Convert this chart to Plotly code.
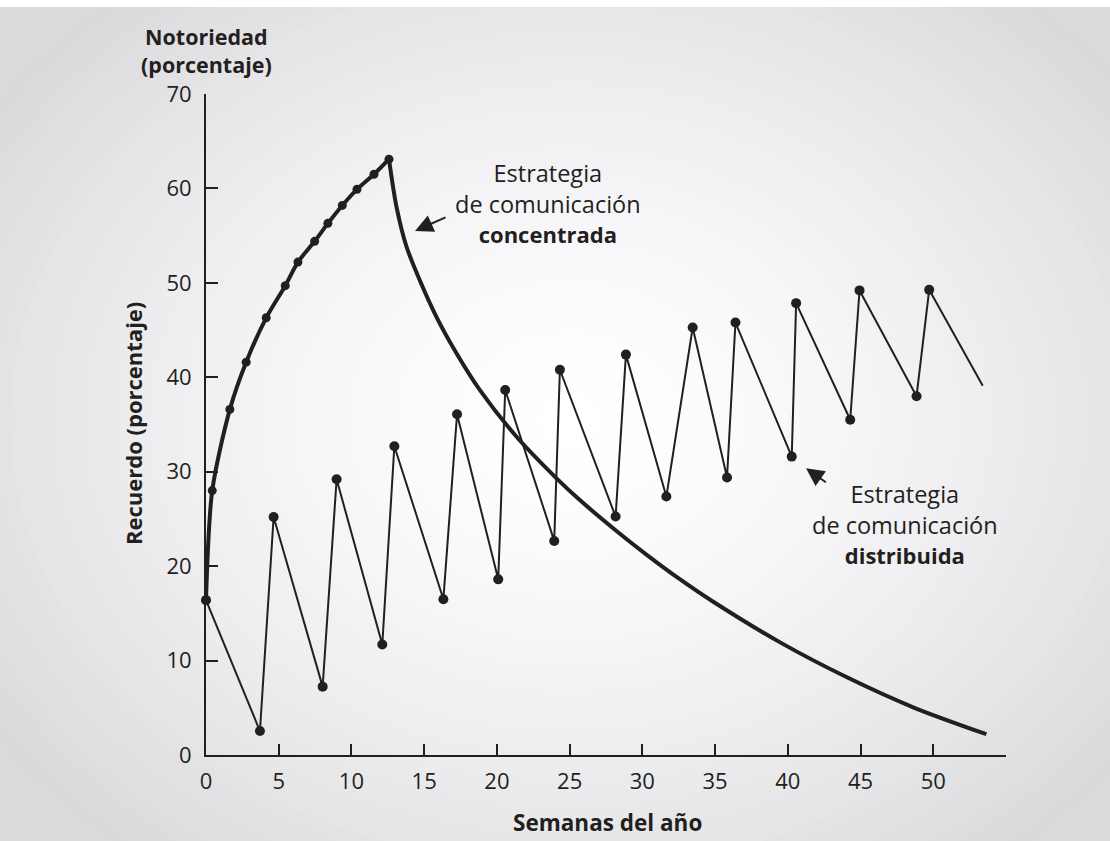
import plotly.graph_objects as go

# concentrated strategy: rising part (weekly insertions) and decay after week ~12.6
conc_rise_x = [0, 0.43, 1.64, 2.76, 4.14, 5.45, 6.32, 7.47, 8.38, 9.37, 10.38, 11.55, 12.58]
conc_rise_y = [16.4, 28.0, 36.6, 41.6, 46.3, 49.7, 52.2, 54.4, 56.3, 58.2, 59.9, 61.5, 63.1]
conc_decay_x = [12.58, 13.09, 13.78, 14.69, 15.84, 17.22, 18.82, 21.35, 24.1, 25.7, 28.2,
                30.3, 32.5, 34.9, 39.5, 44.1, 48.7, 53.65]
conc_decay_y = [63.1, 58.1, 53.85, 50.3, 46.4, 42.55, 38.66, 33.7, 29.3, 27.0, 23.75,
                21.2, 18.7, 16.2, 11.9, 8.2, 5.0, 2.2]

# distributed strategy (zigzag); last point is the open end of the line
dist_x = [0, 3.71, 4.65, 8.02, 8.98, 12.12, 12.95, 16.32, 17.26, 20.09, 20.57, 23.94, 24.33,
          28.16, 28.87, 31.65, 33.46, 35.82, 36.4, 40.27, 40.57, 44.29, 44.93, 48.85, 49.72, 53.4]
dist_y = [16.4, 2.54, 25.2, 7.24, 29.2, 11.7, 32.7, 16.5, 36.08, 18.6, 38.66, 22.67, 40.8,
          25.25, 42.4, 27.37, 45.27, 29.38, 45.8, 31.6, 47.85, 35.5, 49.2, 38.0, 49.26, 39.1]

x_ticks = [0, 5, 10, 15, 20, 25, 30, 35, 40, 45, 50]
y_ticks = [0, 10, 20, 30, 40, 50, 60, 70]

INK = "#231f20"
FONT = "Open Sans"

fig = go.Figure()

fig.add_trace(go.Scatter(
    x=dist_x, y=dist_y, mode="lines",
    line=dict(color=INK, width=2),
    cliponaxis=False, hoverinfo="skip"))
fig.add_trace(go.Scatter(
    x=dist_x[:-1], y=dist_y[:-1], mode="markers",
    marker=dict(color=INK, size=10, opacity=1, line=dict(width=0)),
    cliponaxis=False, hoverinfo="skip"))

fig.add_trace(go.Scatter(
    x=conc_decay_x, y=conc_decay_y, mode="lines",
    line=dict(color=INK, width=4, shape="spline", smoothing=0.8),
    cliponaxis=False, hoverinfo="skip"))

fig.add_trace(go.Scatter(
    x=conc_rise_x, y=conc_rise_y, mode="lines+markers",
    line=dict(color=INK, width=4, shape="spline", smoothing=0.8),
    marker=dict(color=INK, size=9, opacity=1, line=dict(width=0)),
    cliponaxis=False, hoverinfo="skip"))

# radial-ish background: concentric ellipses from grey edge to white centre
L, T, W, H = 206, 94, 800, 661
cx, cy, rx, ry = 570, 420, 700, 560
shapes = []
N = 45
for i in range(N, 0, -1):
    r = i / N
    c = int(round(255 - 37 * r ** 1.5))
    shapes.append(dict(
        type="circle", xref="paper", yref="paper", layer="below",
        x0=(cx - rx * r - L) / W, x1=(cx + rx * r - L) / W,
        y0=(T + H - (cy + ry * r)) / H, y1=(T + H - (cy - ry * r)) / H,
        fillcolor=f"rgb({c},{c},{c + 2 if c < 254 else 255})", line=dict(width=0)))
shapes.append(dict(type="rect", xref="paper", yref="paper", layer="below",
                   x0=-L / W, x1=(1110 - L) / W, y0=(T + H - 7) / H, y1=(T + H + 10) / H,
                   fillcolor="white", line=dict(width=0)))


def px(x, y):
    return dict(xref="paper", yref="paper", x=(x - L) / W, y=(T + H - y) / H,
                xanchor="center", yanchor="middle", showarrow=False)


SMALL = '<span style="font-size:22px">'
annotations = [
    dict(text="<b>Notoriedad<br>(porcentaje)</b>", align="center",
         font=dict(size=21.5, family=FONT, color=INK), **px(206, 50)),
    dict(text="<b>Recuerdo (porcentaje)</b>", textangle=-90,
         font=dict(size=22, family=FONT, color=INK), **px(133, 424)),
    dict(text="<b>Semanas del año</b>",
         font=dict(size=22.5, family=FONT, color=INK), **px(607, 822)),
    dict(text="Estrategia<br>de comunicación<br>" + SMALL + "<b>concentrada</b></span>",
         align="center", font=dict(size=23.5, family=FONT, color=INK), **px(548, 203)),
    dict(text="Estrategia<br>de comunicación<br>" + SMALL + "<b>distribuida</b></span>",
         align="center", font=dict(size=23.5, family=FONT, color=INK), **px(905, 524)),
    dict(text="", x=14.37, y=55.5, ax=16.57, ay=57.0, axref="x", ayref="y",
         showarrow=True, arrowhead=2, arrowsize=1.8, arrowwidth=2, arrowcolor=INK, standoff=0),
    dict(text="", x=41.25, y=30.36, ax=42.72, ay=28.77, axref="x", ayref="y",
         showarrow=True, arrowhead=2, arrowsize=1.8, arrowwidth=2, arrowcolor=INK, standoff=0),
]

fig.update_layout(
    width=1110, height=841,
    margin=dict(l=L, r=1110 - L - W, t=T, b=841 - T - H),
    paper_bgcolor="rgb(218,219,221)", plot_bgcolor="rgba(0,0,0,0)",
    showlegend=False, shapes=shapes, annotations=annotations,
    font=dict(family=FONT, color=INK),
)
fig.update_xaxes(range=[0, 55], tickvals=x_ticks, ticks="inside", ticklen=11, tickwidth=2,
                 tickcolor=INK, showline=True, linecolor=INK, linewidth=2, showgrid=False,
                 zeroline=False, tickfont=dict(size=22, family=FONT, color=INK),
                 ticklabelstandoff=6)
fig.update_yaxes(range=[0, 70], tickvals=y_ticks, ticks="inside", ticklen=12, tickwidth=2,
                 tickcolor=INK, showline=True, linecolor=INK, linewidth=2, showgrid=False,
                 zeroline=False, tickfont=dict(size=22, family=FONT, color=INK),
                 ticklabelstandoff=8)

fig.write_html("out.html", config={"displayModeBar": False},
               post_script="document.body.style.margin='0';document.body.style.padding='0';")
